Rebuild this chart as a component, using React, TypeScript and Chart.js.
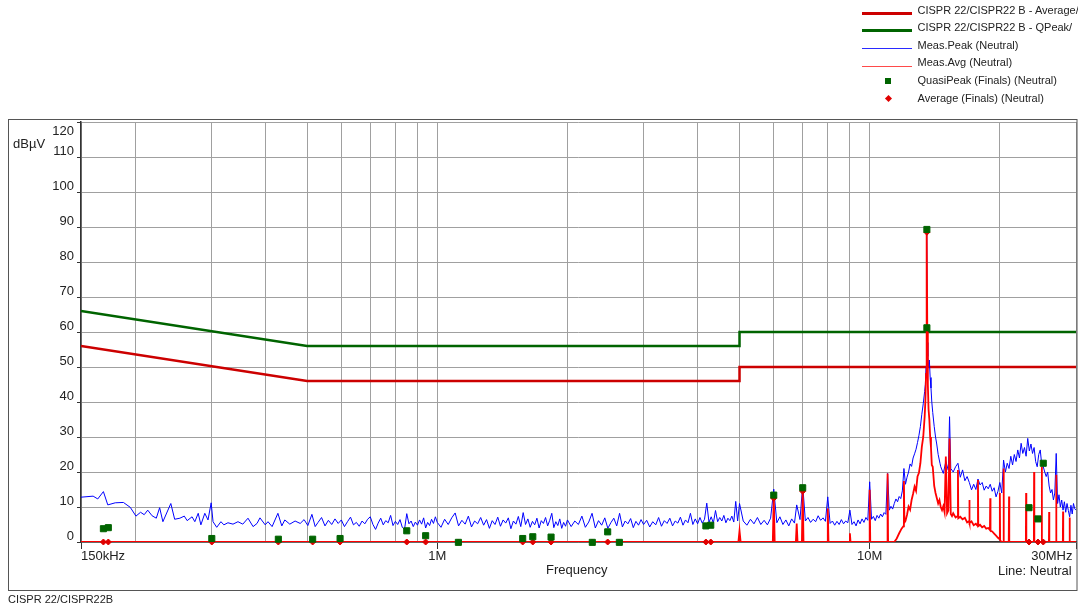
import React, { useEffect, useRef } from "react";
import { Chart, registerables } from "chart.js";

Chart.register(...registerables);

const FONT = "'Liberation Sans', Arial, Helvetica, sans-serif";
const TEXT = "#222";

// ---- Limit lines (frequency MHz, level dBµV)
const qpLimitFreq = [0.15, 0.5, 5, 5, 30];
const qpLimitLevel = [66, 56, 56, 60, 60];
const avLimitFreq = [0.15, 0.5, 5, 5, 30];
const avLimitLevel = [56, 46, 46, 50, 50];

// ---- Meas.Peak (Neutral), by band
const peakFreqA = [0.150,0.160,0.164,0.169,0.173,0.180,0.188,0.195,0.201,0.206,0.210,0.214,0.219,0.224,0.228,0.232,0.242,0.247,0.254,0.260,0.264,0.271,0.275,0.280,0.284,0.290,0.295,0.300,0.303,0.309,0.316,0.321,0.328,0.337,0.346,0.355,0.365,0.375,0.383,0.389,0.400,0.406,0.415,0.428,0.437,0.444,0.456,0.469,0.482,0.492,0.502,0.513,0.522,0.530];
const peakLevelA = [12.8,13.1,12.3,14.4,10.6,11.2,11.3,9.9,7.4,8.5,7.8,9.1,7.5,6.8,9.8,5.8,11.0,6.5,6.8,7.4,6.1,7.2,5.8,8.2,4.9,8.2,6.3,11.2,5.8,4.2,5.8,4.9,5.5,5.1,5.8,5.1,6.8,4.4,5.3,6.9,4.9,5.8,4.4,8.2,4.6,6.3,5.1,6.0,5.3,6.4,4.7,7.9,4.4,5.6];

const peakFreqB = [0.54,0.55,0.56,0.57,0.58,0.59,0.60,0.61,0.62,0.63,0.64,0.65,0.66,0.67,0.68,0.69,0.70,0.71,0.72,0.73,0.74,0.75,0.76,0.77,0.78,0.79,0.80,0.81,0.82,0.83,0.84,0.85,0.86,0.87,0.88,0.89,0.90,0.91,0.92,0.93,0.94,0.95,0.96,0.97,0.98,0.99];
const peakLevelB = [7.0,4.6,6.2,5.0,6.6,5.3,6.3,4.4,5.8,7.1,4.9,5.6,4.5,6.0,5.2,6.5,7.2,5.0,3.6,5.4,6.8,4.9,6.1,5.5,7.6,4.7,5.9,5.0,6.4,4.2,3.6,8.1,5.2,6.0,4.4,5.7,4.8,6.3,5.1,6.9,4.0,5.6,4.7,6.5,5.3,7.2];

const peakFreqC = [1.00,1.02,1.04,1.06,1.08,1.10,1.12,1.14,1.16,1.18,1.20,1.22,1.24,1.26,1.28,1.30,1.32,1.34,1.36,1.38,1.40,1.42,1.44,1.46,1.48,1.50,1.52,1.54,1.56,1.58,1.60,1.62,1.64,1.66,1.68,1.70,1.72,1.74,1.76,1.78,1.80,1.82,1.84,1.86,1.88,1.90,1.92,1.94,1.96,1.98,2.00];
const peakLevelC = [5.6,4.2,6.5,5.0,6.9,8.3,4.6,6.2,5.1,7.4,4.3,6.0,5.2,7.0,4.8,6.4,3.9,6.1,5.0,7.1,4.5,6.3,5.4,6.9,3.8,6.0,5.1,7.3,4.4,8.4,5.0,6.6,4.2,5.9,4.9,6.8,4.0,6.1,5.3,7.0,4.6,6.2,8.2,4.1,5.8,4.7,6.6,3.9,5.6,4.5,6.3];

const peakFreqD = [2.04,2.08,2.12,2.16,2.20,2.24,2.28,2.32,2.36,2.40,2.44,2.48,2.52,2.56,2.60,2.64,2.68,2.72,2.76,2.80,2.84,2.88,2.92,2.96,3.00];
const peakLevelD = [4.4,6.0,5.0,7.4,4.2,5.7,8.2,4.0,6.1,4.8,6.9,3.9,5.5,6.8,4.6,8.2,4.3,6.0,5.2,6.7,4.1,5.9,4.8,6.4,5.0];

const peakFreqE = [3.05,3.10,3.15,3.20,3.25,3.30,3.35,3.40,3.45,3.50,3.55,3.60,3.65,3.70,3.75,3.80,3.85,3.90,3.95,4.00,4.05,4.10,4.15,4.20,4.25,4.30,4.35,4.40,4.45,4.50,4.55,4.60,4.65,4.70,4.75,4.80,4.85,4.90,4.95];
const peakLevelE = [6.2,4.3,5.8,4.9,7.0,4.5,6.1,5.3,6.8,4.6,6.0,5.4,7.1,4.8,6.3,5.5,8.2,5.0,6.6,5.2,7.0,5.4,6.5,11.1,5.6,7.2,5.4,9.0,5.8,7.0,6.0,7.6,5.5,6.8,6.1,7.4,5.7,11.6,6.0];

const peakFreqF = [5.0,5.1,5.2,5.3,5.4,5.5,5.6,5.7,5.8,5.9,6.0,6.1,6.2,6.3,6.4,6.5,6.6,6.7,6.78,6.9,7.0,7.1,7.2,7.3,7.4,7.5,7.6,7.7,7.8,7.9,8.0,8.1,8.2,8.3,8.4,8.5,8.6,8.7,8.8,8.9,9.0,9.1,9.2,9.3,9.4,9.5,9.6,9.7,9.8,9.9];
const peakLevelF = [11.0,6.0,4.8,6.5,5.2,7.0,5.0,6.2,4.9,6.8,15.1,5.5,7.2,5.0,6.3,4.6,6.6,5.4,10.6,6.4,16.3,6.0,7.0,5.6,6.5,5.8,7.5,6.2,6.9,5.9,12.9,5.3,6.0,4.8,5.9,5.0,6.4,5.2,6.0,5.5,9.1,5.0,5.8,4.6,6.3,5.2,6.6,5.6,7.0,6.2];

const peakFreqG = [10.0,10.1,10.2,10.3,10.4,10.5,10.6,10.7,10.8,10.9,11.0,11.1,11.2,11.3,11.4,11.5,11.6,11.7,11.8,11.9,12.0,12.1,12.2,12.3,12.4,12.5,12.6,12.7,12.8,12.9,13.0,13.1,13.2,13.3,13.4,13.45,13.5,13.53,13.56,13.59,13.63,13.68,13.74,13.8,13.86,13.92,13.99,14.1,14.2,14.29,14.4,14.54];
const peakLevelG = [17.2,6.5,7.3,6.1,7.6,6.8,8.0,7.2,8.4,7.9,19.6,9.1,10.2,9.4,11.0,12.3,11.5,13.0,12.4,14.6,21.0,16.5,18.5,20.0,22.3,21.6,24.0,25.2,26.5,28.4,30.5,33.0,36.5,39.5,43.0,45.0,50.0,56.0,89.5,57.0,53.0,50.0,52.0,47.0,44.0,40.0,37.0,33.0,30.0,28.0,25.0,22.5];

const peakFreqH = [14.6,14.8,15.0,15.2,15.3,15.4,15.6,15.8,16.0,16.2,16.4,16.6,16.8,17.0,17.2,17.4,17.6,17.8,18.0,18.2,18.4,18.6,18.8,19.0,19.2,19.4,19.6,19.8,20.0,20.2,20.4,20.6,20.8,21.0,21.2,21.4,21.6,21.8,22.0,22.2,22.4,22.6,22.8,23.0,23.2,23.4,23.6,23.8,24.0,24.2,24.4,24.6,24.8,25.0,25.2,25.4,25.6,25.8,26.0,26.2,26.4,26.6,26.8,27.0,27.2,27.4,27.6,27.8,28.0,28.2,28.4,28.6,28.8,29.0,29.2,29.4,29.6,29.8,30.0];
const peakLevelH = [21.5,19.6,23.0,20.5,35.8,21.0,20.0,21.5,22.5,18.5,20.6,17.5,18.7,17.0,14.9,16.5,15.0,18.0,16.3,17.0,14.8,16.0,15.2,16.5,14.5,15.5,12.9,14.5,17.0,14.0,23.4,20.0,22.5,21.0,24.5,22.0,25.0,23.0,26.3,24.0,28.2,25.3,27.0,24.5,29.6,26.0,28.0,25.3,27.0,23.0,21.5,25.0,26.3,22.0,21.5,20.0,18.7,20.0,16.0,14.0,15.0,12.0,14.0,25.3,11.0,13.5,10.0,12.0,9.1,11.5,8.5,11.0,9.0,7.2,10.5,8.0,11.0,9.5,9.1];

// ---- Meas.Avg (Neutral)
const avgFreq = [0.15,4.97,5.0,5.03,5.97,6.0,6.03,6.75,6.78,6.81,6.97,7.0,7.03,7.97,8.0,8.03,8.97,9.0,9.03,9.97,10.0,10.03,10.97,11.0,11.03,11.4,11.55,11.7,11.85,11.97,12.0,12.03,12.1,12.2,12.3,12.4,12.5,12.6,12.7,12.8,12.9,13.0,13.1,13.2,13.3,13.4,13.45,13.5,13.53,13.56,13.59,13.63,13.68,13.74,13.8,13.86,13.92,13.99,14.1,14.2,14.3,14.4,14.5,14.6,14.7,14.8,14.9,15.0,15.1,15.2,15.3,15.4,15.5,15.6,15.8,15.97,16.0,16.03,16.2,16.4,16.6,16.8,16.97,17.0,17.03,17.2,17.4,17.6,17.77,17.8,17.83,18.0,18.2,18.4,18.6,18.8,18.97,19.0,19.03,19.2,19.4,19.6,19.8,19.97,20.0,20.03,20.2,20.37,20.4,20.43,20.97,21.0,21.03,22.97,23.0,23.03,23.97,24.0,24.03,24.97,25.0,25.03,25.97,26.0,26.03,26.97,27.0,27.03,27.97,28.0,28.03,28.97,29.0,29.03,30.0];
const avgLevel = [0,0,3.2,0,0,13.0,0,0,5.3,0,0,14.9,0,0,9.6,0,0,2.5,0,0,14.9,0,0,19.6,0,0,1.0,2.5,3.8,4.5,17.4,5.5,6.0,7.8,10.1,9.2,12.0,13.8,15.8,14.6,18.7,19.8,22.5,27.2,30.0,35.8,40.0,48.0,60.0,89.5,60.0,45.0,38.0,35.0,30.0,27.0,22.0,21.5,16.0,14.0,12.5,11.0,12.0,10.0,9.1,10.2,8.5,24.4,8.2,9.0,29.6,8.0,7.4,8.2,7.0,7.4,20.6,6.8,7.2,6.5,6.9,5.6,6.0,12.0,5.4,5.9,4.8,5.2,4.6,17.7,4.5,4.9,4.2,4.6,3.8,4.0,3.4,12.5,3.2,3.0,2.4,1.8,1.2,0.8,14.0,0.5,0,0,21.0,0,0,13.0,0,0,14.0,0,0,20.0,0,0,21.5,0,0,8.6,0,0,19.2,0,0,8.7,0,0,7.0,0,0];

// ---- Finals
const qpFinalFreq = [0.169,0.1735,0.301,0.429,0.515,0.596,0.850,0.940,1.119,1.576,1.663,1.833,2.283,2.478,2.637,4.18,4.29,6.0,7.0,13.56,13.56,23.36,24.5,25.2];
const qpFinalLevel = [3.8,4.1,1.0,0.8,0.8,1.0,3.2,1.8,-0.1,1.0,1.5,1.4,-0.1,2.9,-0.1,4.6,4.8,13.4,15.5,89.3,61.2,9.8,6.6,22.5];
const avFinalFreq = [0.169,0.1735,0.301,0.429,0.515,0.596,0.850,0.940,1.119,1.576,1.663,1.833,2.283,2.478,2.637,4.18,4.29,6.0,7.0,13.56,23.36,24.5,25.2];
const avFinalLevel = [0,0,0,0,0,0,0,0,0,0,0,0,0,0,0,0,0,12.5,14.5,88.5,0,0,0];

// ---- Axes
const xGridTicks = [0.15,0.2,0.3,0.4,0.5,0.6,0.7,0.8,0.9,1,2,3,4,5,6,7,8,9,10,20,30];
const xTickValues = [0.15, 1, 10, 30];
const xTickNames = ["150kHz", "1M", "10M", "30MHz "];
const yMin = 0;
const yMax = 120;
const yStep = 10;

const legendItems = [
  { label: "CISPR 22/CISPR22 B - Average/", kind: "line", color: "#cc0000", width: 3 },
  { label: "CISPR 22/CISPR22 B - QPeak/", kind: "line", color: "#006400", width: 3 },
  { label: "Meas.Peak (Neutral)", kind: "line", color: "#2a2aff", width: 1 },
  { label: "Meas.Avg (Neutral)", kind: "line", color: "#ff4a4a", width: 1 },
  { label: "QuasiPeak (Finals) (Neutral)", kind: "square", color: "#006400", width: 0 },
  { label: "Average (Finals) (Neutral)", kind: "diamond", color: "#e00000", width: 0 },
];

const toXY = (f: number[], v: number[]) => f.map((x, i) => ({ x, y: v[i] }));

const framePlugin = {
  id: "outerFrame",
  afterDraw(chart: any) {
    const ctx = chart.ctx;
    ctx.save();
    ctx.strokeStyle = "#555";
    ctx.lineWidth = 1;
    ctx.strokeRect(8.5, 119.5, 1068.5, 471);
    ctx.restore();
  },
};

export default function App() {
  const ref = useRef<HTMLCanvasElement>(null);

  useEffect(() => {
    const canvas = ref.current;
    if (!canvas) return;
    const peak = [
      ...toXY(peakFreqA, peakLevelA),
      ...toXY(peakFreqB, peakLevelB),
      ...toXY(peakFreqC, peakLevelC),
      ...toXY(peakFreqD, peakLevelD),
      ...toXY(peakFreqE, peakLevelE),
      ...toXY(peakFreqF, peakLevelF),
      ...toXY(peakFreqG, peakLevelG),
      ...toXY(peakFreqH, peakLevelH),
    ];
    const chart = new Chart(canvas, {
      type: "line",
      data: {
        datasets: [
          {
            label: "QuasiPeak (Finals) (Neutral)",
            data: toXY(qpFinalFreq, qpFinalLevel),
            showLine: false,
            pointStyle: "rect",
            pointRadius: 4.3,
            backgroundColor: "#006400",
            borderColor: "#006400",
            borderWidth: 1,
            order: 0,
            clip: false,
          },
          {
            label: "Average (Finals) (Neutral)",
            data: toXY(avFinalFreq, avFinalLevel),
            showLine: false,
            pointStyle: "rectRot",
            pointRadius: 3,
            backgroundColor: "#e00000",
            borderColor: "#e00000",
            borderWidth: 1,
            order: 1,
            clip: false,
          },
          {
            label: "Meas.Avg (Neutral)",
            data: toXY(avgFreq, avgLevel),
            borderColor: "#ff0000",
            borderWidth: 1.8,
            pointRadius: 0,
            order: 2,
          },
          {
            label: "Meas.Peak (Neutral)",
            data: peak,
            borderColor: "#0000ff",
            borderWidth: 1,
            pointRadius: 0,
            order: 3,
          },
          {
            label: "CISPR 22/CISPR22 B - Average/",
            data: toXY(avLimitFreq, avLimitLevel),
            borderColor: "#cc0000",
            borderWidth: 2.5,
            pointRadius: 0,
            order: 4,
          },
          {
            label: "CISPR 22/CISPR22 B - QPeak/",
            data: toXY(qpLimitFreq, qpLimitLevel),
            borderColor: "#006400",
            borderWidth: 2.5,
            pointRadius: 0,
            order: 5,
          },
        ],
      },
      options: {
        animation: false,
        responsive: false,
        maintainAspectRatio: false,
        events: [],
        elements: { line: { tension: 0 } },
        layout: { autoPadding: false, padding: { top: 122, left: 0, right: 2, bottom: 0 } },
        plugins: {
          legend: { display: false },
          tooltip: { enabled: false },
          title: { display: false },
        },
        scales: {
          x: {
            type: "logarithmic",
            min: 0.15,
            max: 30,
            afterBuildTicks: (scale: any) => {
              scale.ticks = xGridTicks.map((v) => ({ value: v }));
            },
            afterFit: (scale: any) => {
              scale.height = 63;
              scale.paddingLeft = 0;
              scale.paddingRight = 0;
            },
            ticks: {
              autoSkip: false,
              maxRotation: 0,
              minRotation: 0,
              align: "inner",
              padding: 0,
              color: TEXT,
              font: { family: FONT, size: 13 },
              callback: (value: any) => {
                const i = xTickValues.findIndex((t) => Math.abs(t - Number(value)) < 1e-9);
                return i >= 0 ? xTickNames[i] : "";
              },
            },
            grid: {
              color: "#a0a0a0",
              lineWidth: 1,
              tickLength: 7,
              tickColor: (ctx: any) => {
                const v = ctx.tick ? ctx.tick.value : NaN;
                return xTickValues.some((t) => Math.abs(t - v) < 1e-9) ? "#333" : "rgba(0,0,0,0)";
              },
            },
            border: { display: true, color: "#333", width: 1.5 },
          },
          y: {
            type: "linear",
            min: yMin,
            max: yMax,
            afterFit: (scale: any) => {
              scale.width = 81;
              scale.paddingTop = 0;
              scale.paddingBottom = 0;
            },
            ticks: {
              stepSize: yStep,
              autoSkip: false,
              padding: 3,
              labelOffset: -6,
              color: TEXT,
              font: { family: FONT, size: 13 },
              callback: (value: any) => (Number(value) === yMax ? ["", "", String(value)] : String(value)),
            },
            grid: {
              color: "#a0a0a0",
              lineWidth: 1,
              tickLength: 4,
              tickColor: "#333",
            },
            border: { display: true, color: "#333", width: 1.5 },
          },
        },
      },
      plugins: [framePlugin],
    } as any);
    return () => chart.destroy();
  }, []);

  const abs = (left: number, top: number, size: number, extra: any = {}) => ({
    position: "absolute" as const,
    left,
    top,
    fontSize: size,
    lineHeight: size === 13 ? "15px" : "13px",
    whiteSpace: "nowrap" as const,
    ...extra,
  });

  return (
    <div
      style={{
        position: "absolute",
        left: 0,
        top: 0,
        width: 1078,
        height: 605,
        overflow: "hidden",
        background: "#fff",
        fontFamily: FONT,
        color: TEXT,
      }}
    >
      <canvas
        ref={ref}
        width={1078}
        height={605}
        style={{ position: "absolute", left: 0, top: 0, width: 1078, height: 605, display: "block" }}
      />
      <div style={abs(13, 135.5, 13)}>dBµV</div>
      <div style={abs(546, 562, 13)}>Frequency</div>
      <div style={abs(998, 562.5, 13)}>Line: Neutral</div>
      <div style={abs(8, 592.5, 11)}>CISPR 22/CISPR22B</div>
      {legendItems.map((it, i) => {
        const textCenter = 10 + i * 17.6;
        const markCenter = it.kind === "line" ? textCenter + 3.3 : textCenter + 0.5;
        return (
          <React.Fragment key={i}>
            {it.kind === "line" && (
              <div
                style={{
                  position: "absolute",
                  left: 862,
                  width: 50,
                  top: markCenter - it.width / 2,
                  height: it.width,
                  background: it.color,
                }}
              />
            )}
            {it.kind === "square" && (
              <div
                style={{
                  position: "absolute",
                  left: 885,
                  top: markCenter - 3,
                  width: 6,
                  height: 6,
                  background: it.color,
                }}
              />
            )}
            {it.kind === "diamond" && (
              <div
                style={{
                  position: "absolute",
                  left: 885.5,
                  top: markCenter - 2.5,
                  width: 5,
                  height: 5,
                  background: it.color,
                  transform: "rotate(45deg)",
                }}
              />
            )}
            <div style={abs(917.5, textCenter - 6.5, 11)}>{it.label}</div>
          </React.Fragment>
        );
      })}
    </div>
  );
}
